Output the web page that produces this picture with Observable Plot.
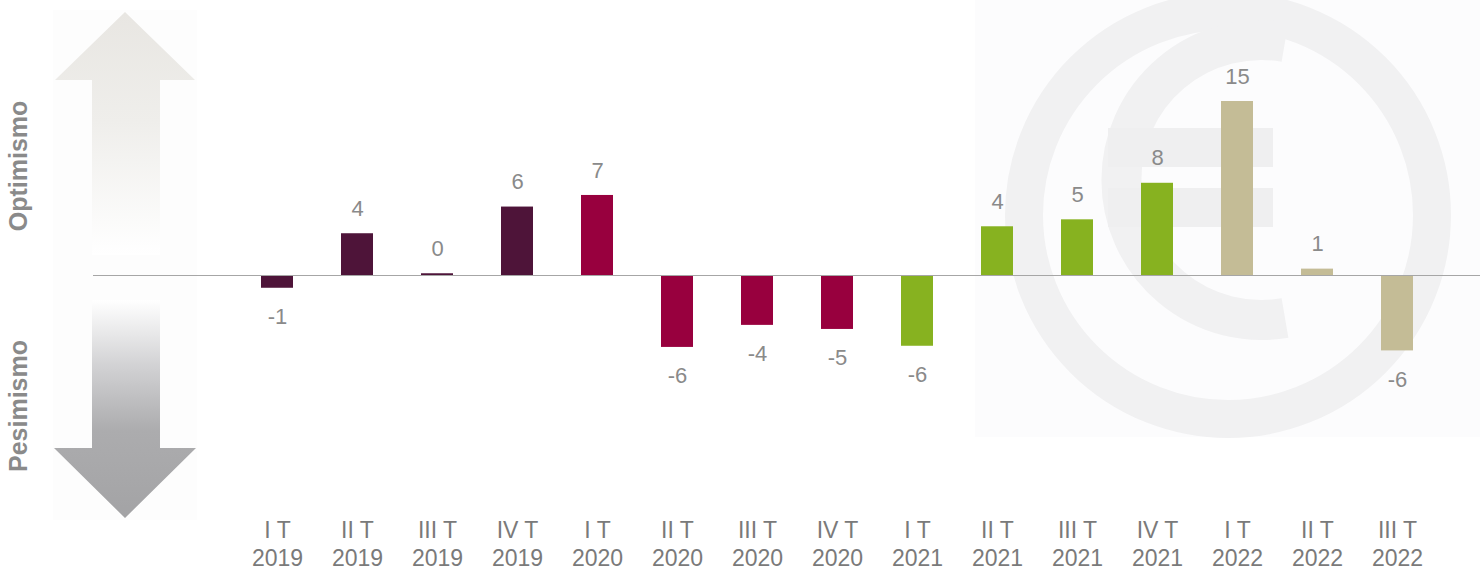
<!DOCTYPE html>
<html>
<head>
<meta charset="utf-8">
<script src="https://cdn.jsdelivr.net/npm/d3@7"></script>
<script src="https://cdn.jsdelivr.net/npm/@observablehq/plot@0.6"></script>
<style>
  html, body { margin: 0; padding: 0; background: #ffffff; }
  #wrap { position: relative; width: 1480px; height: 571px; overflow: hidden; font-family: "Liberation Sans", Arial, sans-serif; }
  #deco, #chart { position: absolute; left: 0; top: 0; }
  #chart svg { background: transparent; }
</style>
</head>
<body>
<div id="wrap">
  <svg id="deco" width="1480" height="571" viewBox="0 0 1480 571">
    <defs>
      <linearGradient id="upGrad" x1="0" y1="0" x2="0" y2="1">
        <stop offset="0" stop-color="#e8e6e2"/>
        <stop offset="0.45" stop-color="#efeeeb"/>
        <stop offset="1" stop-color="#ffffff"/>
      </linearGradient>
      <linearGradient id="downGrad" x1="0" y1="0" x2="0" y2="1">
        <stop offset="0" stop-color="#ffffff"/>
        <stop offset="0.3" stop-color="#d2d2d4"/>
        <stop offset="0.6" stop-color="#acacae"/>
        <stop offset="1" stop-color="#a3a3a5"/>
      </linearGradient>
    </defs>
    <!-- left arrows -->
    <rect x="53" y="10" width="144" height="510" fill="#fdfdfd"/>
    <polygon points="125,12 195,80 160,80 160,255 92,255 92,80 55,80" fill="url(#upGrad)"/>
    <polygon points="92,300 160,300 160,448 196,448 125,518 54,448 92,448" fill="url(#downGrad)"/>
    <text transform="translate(27,166) rotate(-90)" text-anchor="middle" font-size="25" font-weight="bold" fill="#8a8a8a" font-family="Liberation Sans, Arial, sans-serif">Optimismo</text>
    <text transform="translate(27,406) rotate(-90)" text-anchor="middle" font-size="25" font-weight="bold" fill="#8a8a8a" font-family="Liberation Sans, Arial, sans-serif">Pesimismo</text>
    <!-- euro watermark -->
    <rect x="975" y="0" width="505" height="437" fill="#fcfcfd"/>
    <circle cx="1228" cy="215" r="204" fill="none" stroke="#f1f1f2" stroke-width="38"/>
    <path d="M 1285 42 A 140 140 0 1 0 1285 318" fill="none" stroke="#f1f1f2" stroke-width="40"/>
    <rect x="1108" y="128" width="165" height="39" fill="#efeff0"/>
    <rect x="1108" y="188" width="165" height="39" fill="#efeff0"/>
  </svg>
  <div id="chart"></div>
</div>
<script>
const quarters = ["I T","II T","III T","IV T","I T","II T","III T","IV T","I T","II T","III T","IV T","I T","II T","III T"];
const years    = ["2019","2019","2019","2019","2020","2020","2020","2020","2021","2021","2021","2021","2022","2022","2022"];
const values   = [-1.1, 3.6, 0.15, 5.9, 6.9, -6.2, -4.3, -4.65, -6.1, 4.2, 4.8, 7.95, 15.0, 0.55, -6.5];
const labels   = ["-1","4","0","6","7","-6","-4","-5","-6","4","5","8","15","1","-6"];
const yearDomain = ["2019","2020","2021","2022"];
const yearColors = ["#4e1439","#98003e","#87b220","#c4bc96"];

const data = quarters.map((q, i) => ({
  key: q + "\n" + years[i],
  year: years[i],
  value: values[i],
  label: labels[i]
}));

const chart = Plot.plot({
  width: 1480,
  height: 571,
  marginLeft: 93,
  marginRight: 0,
  marginTop: 0,
  marginBottom: 62,
  style: { background: "transparent", fontFamily: "Liberation Sans, Arial, sans-serif", fontSize: "23px", color: "#7a7a7a" },
  x: { type: "band", domain: data.map(d => d.key), range: [237, 1437], paddingInner: 0.6, paddingOuter: 0.3, label: null },
  y: { domain: [-10, 15], range: [391, 101], axis: null },
  color: { domain: yearDomain, range: yearColors },
  marks: [
    Plot.barY(data, { x: "key", y: "value", fill: "year" }),
    Plot.ruleY([0], { stroke: "#a6a6a6", strokeWidth: 1 }),
    Plot.text(data.filter(d => d.value >= 0), { x: "key", y: "value", text: "label", dy: -25, fill: "#8a8a8a", fontSize: 22 }),
    Plot.text(data.filter(d => d.value < 0), { x: "key", y: "value", text: "label", dy: 29, fill: "#8a8a8a", fontSize: 22 }),
    Plot.axisX({ tickSize: 0, tickPadding: 9, lineHeight: 1.2, fill: "#7a7a7a", label: null, fontSize: 23 })
  ]
});
document.getElementById("chart").appendChild(chart);
</script>
</body>
</html>
